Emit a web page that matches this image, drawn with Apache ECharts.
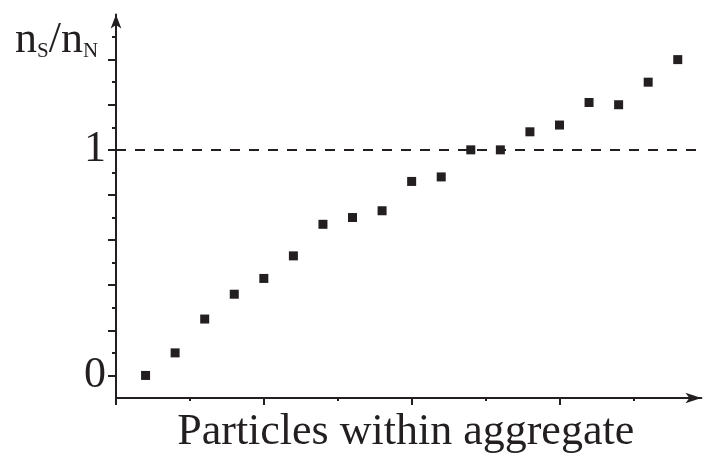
<!DOCTYPE html>
<html>
<head>
<meta charset="utf-8">
<script src="https://cdn.jsdelivr.net/npm/echarts@6/dist/echarts.min.js"></script>
<style>
  html, body { margin: 0; padding: 0; background: #fff; }
  #chart { width: 710px; height: 459px; }
</style>
</head>
<body>
<div id="chart"></div>
<script>
// particle index within the aggregate and measured n_S/n_N ratio
var particles = [1, 2, 3, 4, 5, 6, 7, 8, 9, 10, 11, 12, 13, 14, 15, 16, 17, 18, 19];
var ratio = [0.0, 0.10, 0.25, 0.36, 0.43, 0.53, 0.67, 0.70, 0.73, 0.86, 0.88, 1.0, 1.0, 1.08, 1.11, 1.21, 1.20, 1.30, 1.40];

var xTicksLong = [0, 5, 10, 15];
var xTicksShort = [2.5, 7.5, 12.5, 17.5];
var yTicksLong = [0, 0.2, 0.4, 0.6, 0.8, 1.0, 1.2, 1.4];
var yTicksShort = [0.1, 0.3, 0.5, 0.7, 0.9, 1.1, 1.3, 1.5];
var yLabels = [0, 1];

var ink = '#231f20';
var serif = '"Liberation Serif", "DejaVu Serif", serif';

var chart = echarts.init(document.getElementById('chart'));

var xRange = { min: 0, max: 19.8 };
var yRange = { min: -0.1, max: 1.6 };

chart.setOption({
  animation: false,
  grid: { left: 116, right: 8.6, top: 14.5, bottom: 58.6 },
  xAxis: [{
    type: 'value', position: 'bottom', min: xRange.min, max: xRange.max,
    name: 'Particles within aggregate', nameLocation: 'middle', nameGap: 12,
    nameTextStyle: { fontFamily: serif, fontSize: 44, color: ink, verticalAlign: 'top', padding: [0, 6, 0, 0] },
    axisLine: { show: true, onZero: false, symbol: ['none', 'arrow'], symbolSize: [8, 16], lineStyle: { color: ink, width: 2 } },
    axisTick: { show: true, length: 7, customValues: xTicksLong, lineStyle: { color: ink, width: 2 } },
    axisLabel: { show: false },
    splitLine: { show: false }
  }, {
    type: 'value', position: 'bottom', min: xRange.min, max: xRange.max,
    axisLine: { show: false, onZero: false },
    axisTick: { show: true, length: 3, customValues: xTicksShort, lineStyle: { color: ink, width: 2 } },
    axisLabel: { show: false },
    splitLine: { show: false }
  }],
  yAxis: [{
    type: 'value', position: 'left', min: yRange.min, max: yRange.max,
    axisLine: { show: true, onZero: false, symbol: ['none', 'arrow'], symbolSize: [8, 14], lineStyle: { color: ink, width: 2 } },
    axisTick: { show: true, length: 8, customValues: yTicksLong, lineStyle: { color: ink, width: 2 } },
    axisLabel: { show: true, customValues: yLabels, margin: 10, fontFamily: serif, fontSize: 44, color: ink },
    splitLine: { show: false }
  }, {
    type: 'value', position: 'left', min: yRange.min, max: yRange.max,
    axisLine: { show: false, onZero: false },
    axisTick: { show: true, length: 4, customValues: yTicksShort, lineStyle: { color: ink, width: 2 } },
    axisLabel: { show: false },
    splitLine: { show: false }
  }],
  graphic: [{
    type: 'text', left: 15, top: 18,
    style: {
      text: '{n|n}{sub|S}{n|/n}{sub|N}',
      fill: ink,
      rich: {
        n: { fontFamily: serif, fontSize: 44, lineHeight: 44, fill: ink },
        sub: { fontFamily: serif, fontSize: 21, lineHeight: 14, verticalAlign: 'bottom', fill: ink }
      }
    }
  }],
  series: [{
    type: 'scatter',
    xAxisIndex: 0, yAxisIndex: 0,
    data: particles.map(function (p, i) { return [p, ratio[i]]; }),
    symbol: 'rect', symbolSize: 9,
    itemStyle: { color: ink, opacity: 1 },
    markLine: {
      silent: true, symbol: ['none', 'none'],
      label: { show: false },
      lineStyle: { color: ink, width: 2, type: [10, 9], opacity: 1 },
      data: [{ yAxis: 1 }]
    }
  }]
});
</script>
</body>
</html>
